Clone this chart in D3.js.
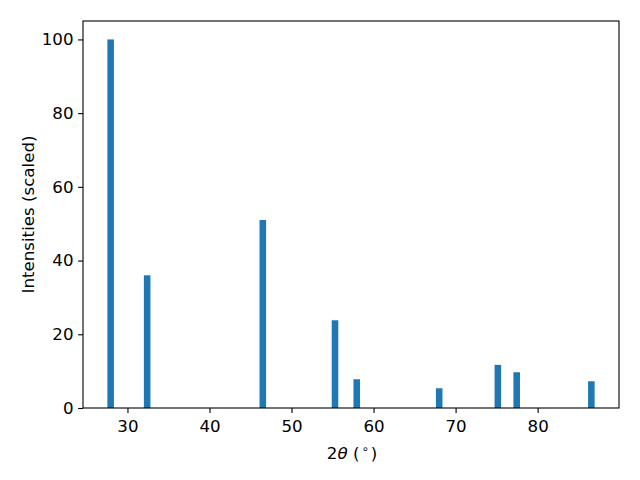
<!DOCTYPE html>
<html><head><meta charset="utf-8">
<script src="https://cdn.jsdelivr.net/npm/d3@7"></script>
<style>body{margin:0;background:#fff}svg{display:block}text{font-family:"DejaVu Sans",sans-serif}</style>
</head><body>
<script>
const angles = [27.95, 32.4, 46.5, 55.3, 57.95, 68.0, 75.15, 77.45, 86.55];
const intensities = [100, 36.0, 51.0, 23.8, 7.8, 5.35, 11.7, 9.7, 7.25];
const xTicks = [30, 40, 50, 60, 70, 80];
const yTicks = [0, 20, 40, 60, 80, 100];
const barWidth = 0.8;

const W = 640, H = 480;
const FS = 16.67;
const m = {left: 83, right: 619, top: 21, bottom: 408};
const svg = d3.select("body").append("svg").attr("width", W).attr("height", H);

const lo = d3.min(angles) - barWidth/2, hi = d3.max(angles) + barWidth/2;
const pad = (hi - lo) * 0.05;
const x = d3.scaleLinear().domain([lo - pad, hi + pad]).range([m.left, m.right]);
const y = d3.scaleLinear().domain([0, 105]).range([m.bottom, m.top]);

svg.append("g").selectAll("rect").data(angles).join("rect")
  .attr("x", (d) => x(d - barWidth/2))
  .attr("width", (d) => x(d + barWidth/2) - x(d - barWidth/2))
  .attr("y", (d, i) => y(intensities[i]))
  .attr("height", (d, i) => y(0) - y(intensities[i]))
  .attr("fill", "#1f77b4");

const xa = svg.append("g").attr("transform", `translate(0,${m.bottom})`)
  .call(d3.axisBottom(x).tickValues(xTicks).tickSize(4.9).tickPadding(6.8).tickFormat(d3.format("d")));
const ya = svg.append("g").attr("transform", `translate(${m.left},0)`)
  .call(d3.axisLeft(y).tickValues(yTicks).tickSize(4.9).tickPadding(4.6).tickFormat(d3.format("d")));
[xa, ya].forEach(g => {
  g.select(".domain").remove();
  g.selectAll("line").attr("stroke", "#000").attr("stroke-width", 1.1);
  g.selectAll("text").attr("font-size", FS).attr("fill", "#000").attr("font-family", "DejaVu Sans");
});

svg.append("rect").attr("x", m.left).attr("y", m.top)
  .attr("width", m.right - m.left).attr("height", m.bottom - m.top)
  .attr("fill", "none").attr("stroke", "#000").attr("stroke-width", 1.1);

const xl = svg.append("text").attr("x", (m.left + m.right)/2 + 1).attr("y", 459)
  .attr("text-anchor", "middle").attr("font-size", FS).attr("fill", "#000");
xl.append("tspan").text("2");
xl.append("tspan").attr("font-style", "italic").text("θ");
xl.append("tspan").text(" (");
xl.append("tspan").attr("font-size", 11.7).attr("dy", -6).attr("dx", 2).text("∘");
xl.append("tspan").attr("dy", 6).attr("dx", 2).text(")");

svg.append("text").attr("transform", `translate(33.5,${(m.top + m.bottom)/2}) rotate(-90)`)
  .attr("text-anchor", "middle").attr("font-size", FS).attr("fill", "#000")
  .text("Intensities (scaled)");
</script>
</body></html>
